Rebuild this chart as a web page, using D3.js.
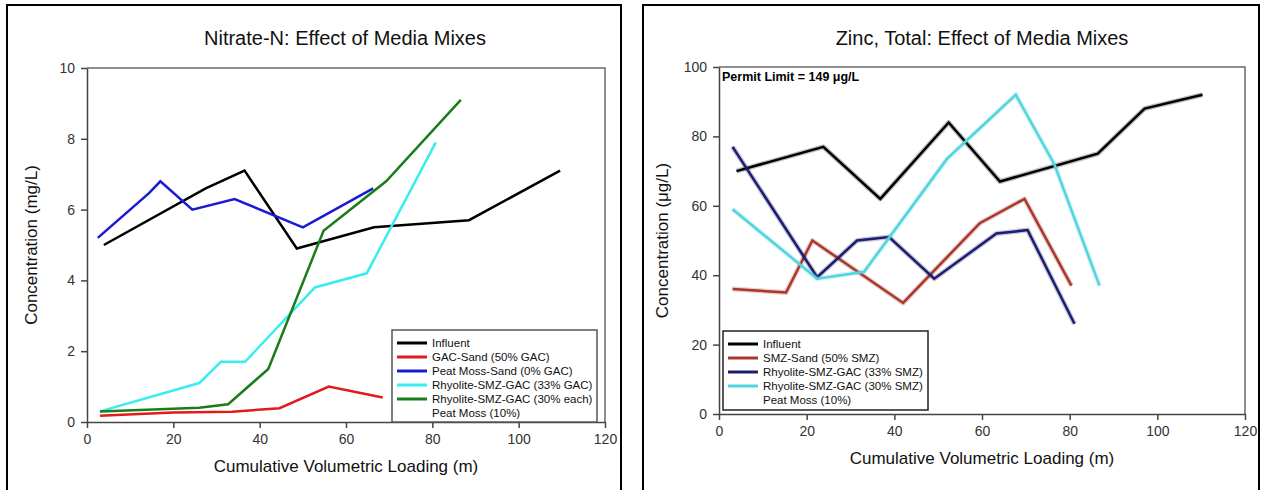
<!DOCTYPE html>
<html><head><meta charset="utf-8">
<script src="https://cdn.jsdelivr.net/npm/d3@7"></script>
<style>body{margin:0;background:#fff;} svg{display:block;font-family:Arial,"Liberation Sans",sans-serif;}</style>
</head><body>
<svg id="c" width="1263" height="490"></svg>
<script>
// ---- Data: Nitrate-N (left) ----
const nitrateInfluent = [[3.9,5.0],[27.5,6.6],[36.5,7.1],[48.6,4.9],[66.5,5.5],[88.5,5.7],[109.6,7.1]];
const nitrateGacSand = [[3,0.18],[20,0.27],[33.6,0.29],[44.6,0.39],[56,1.0],[68.5,0.69]];
const nitratePeatSand = [[2.5,5.2],[14.3,6.46],[17,6.8],[24.4,6.0],[34.2,6.3],[50,5.5],[66.3,6.6]];
const nitrateRhy33 = [[3,0.3],[26,1.1],[31,1.7],[36.6,1.7],[52.8,3.8],[64.8,4.2],[80.8,7.9]];
const nitrateRhy30 = [[3,0.3],[26,0.4],[32.7,0.5],[42,1.5],[54.8,5.4],[69.3,6.8],[86.6,9.1]];
const nitrateLegend = ["Influent","GAC-Sand (50% GAC)","Peat Moss-Sand (0% GAC)","Rhyolite-SMZ-GAC (33% GAC)","Rhyolite-SMZ-GAC (30% each)","Peat Moss (10%)"];
const nitrateColors = ["#000000","#e01b1b","#1a1ad4","#38ecf0","#1a7d1a"];
const nitrateYTicks = [0,2,4,6,8,10];

// ---- Data: Zinc (right) ----
const zincInfluent = [[4,70],[23.8,77],[36.8,62],[52.4,84],[64.1,67],[86.4,75],[97.1,88],[110.3,92]];
const zincSmzSand = [[3.1,36],[15.3,35],[21.3,50],[42,32],[59.5,55],[69.7,62],[80.4,37]];
const zincRhy33 = [[3.1,77],[22.4,39.4],[31.5,50],[38.8,51],[49.1,39],[63.3,52],[70.4,53],[81.1,26]];
const zincRhy30 = [[3.1,59],[22.4,39],[33.1,41],[52,73.5],[67.7,92],[76.5,72],[86.8,37]];
const zincLegend = ["Influent","SMZ-Sand (50% SMZ)","Rhyolite-SMZ-GAC (33% SMZ)","Rhyolite-SMZ-GAC (30% SMZ)","Peat Moss (10%)"];
const zincColors = ["#000000","#a8382c","#1c1c70","#52d4de"];
const zincYTicks = [0,20,40,60,80,100];
const xTicks = [0,20,40,60,80,100,120];

const svg = d3.select("#c");

function panel(o){
  const g = svg.append("g");
  // panel frame
  g.append("rect").attr("x",o.fx).attr("y",5).attr("width",o.fw).attr("height",500)
    .attr("fill","none").attr("stroke","#000").attr("stroke-width",2);
  const x = d3.scaleLinear().domain([0,120]).range([o.x0,o.x1]);
  const y = d3.scaleLinear().domain([0,o.ymax]).range([o.y0,o.y1]);
  // plot frame (top/right)
  g.append("path").attr("d",`M${o.x0},${o.y1}H${o.x1}V${o.y0}`)
    .attr("fill","none").attr("stroke","#6a6a6a").attr("stroke-width",1.5);
  const xa = g.append("g").attr("transform",`translate(0,${o.y0})`)
    .call(d3.axisBottom(x).tickValues(xTicks).tickSize(6).tickSizeOuter(0).tickPadding(6));
  const ya = g.append("g").attr("transform",`translate(${o.x0},0)`)
    .call(d3.axisLeft(y).tickValues(o.yTicks).tickSize(6).tickSizeOuter(0).tickPadding(6));
  [xa,ya].forEach(a=>{
    a.selectAll("path,line").attr("stroke","#444").attr("stroke-width",1.5);
    a.selectAll("text").attr("fill","#333").attr("font-size",14).attr("font-family","Arial, Liberation Sans, sans-serif");
  });
  // title & labels
  const cx=(o.x0+o.x1)/2;
  g.append("text").attr("x",o.titleX).attr("y",45).attr("text-anchor","middle")
    .attr("font-size",20).attr("fill","#111").text(o.title);
  g.append("text").attr("x",cx).attr("y",o.y0+50).attr("text-anchor","middle")
    .attr("font-size",17).attr("fill","#111").text("Cumulative Volumetric Loading (m)");
  g.append("text").attr("transform",`translate(${o.ylx},${(o.y0+o.y1)/2}) rotate(-90)`)
    .attr("text-anchor","middle").attr("font-size",17).attr("fill","#111").text(o.ylabel);
  // lines
  const line = d3.line().x(d=>x(d[0])).y(d=>y(d[1]));
  const lg = g.append("g");
  o.series.forEach((s,i)=>{
    if(o.glow){
      lg.append("path").datum(s).attr("d",line).attr("fill","none")
        .attr("stroke",o.colors[i]).attr("stroke-opacity",0.25).attr("stroke-width",5)
        .attr("stroke-linejoin","round");
    }
    lg.append("path").datum(s).attr("d",line).attr("fill","none")
      .attr("stroke",o.colors[i]).attr("stroke-width",o.lw).attr("stroke-linejoin","miter");
  });
  // legend
  const L = g.append("g");
  L.append("rect").attr("x",o.lx).attr("y",o.ly).attr("width",o.lw2).attr("height",o.lh)
    .attr("fill","#fff").attr("stroke",o.lstroke).attr("stroke-width",1.5);
  o.legend.forEach((t,i)=>{
    const yy = o.ly+13+i*14;
    if(i<o.colors.length){
      L.append("line").attr("x1",o.lx+5).attr("x2",o.lx+35).attr("y1",yy).attr("y2",yy)
        .attr("stroke",o.colors[i]).attr("stroke-width",3);
    }
    L.append("text").attr("x",o.lx+40).attr("y",yy+4).attr("font-size",11.5).attr("fill","#111").text(t);
  });
  return {g,x,y};
}

panel({fx:7,fw:614,x0:87,x1:605,y0:422,y1:68,ymax:10,yTicks:nitrateYTicks,
  title:"Nitrate-N: Effect of Media Mixes",titleX:345,ylabel:"Concentration (mg/L)",ylx:37,
  series:[nitrateInfluent,nitrateGacSand,nitratePeatSand,nitrateRhy33,nitrateRhy30],
  colors:nitrateColors,legend:nitrateLegend,lw:2.5,glow:false,
  lx:392,ly:330,lw2:205,lh:92,lstroke:"#555"});

const R = panel({fx:643,fw:616,x0:719,x1:1245,y0:414,y1:67,ymax:100,yTicks:zincYTicks,
  title:"Zinc, Total: Effect of Media Mixes",titleX:982,ylabel:"Concentration (\u03bcg/L)",ylx:668,
  series:[zincInfluent,zincSmzSand,zincRhy33,zincRhy30],
  colors:zincColors,legend:zincLegend,lw:2.5,glow:true,
  lx:723,ly:331,lw2:205,lh:79,lstroke:"#222"});

R.g.append("text").attr("x",722).attr("y",81).attr("font-size",12.5).attr("font-weight","bold")
  .attr("fill","#000").text("Permit Limit = 149 \u03bcg/L");
</script>
</body></html>
